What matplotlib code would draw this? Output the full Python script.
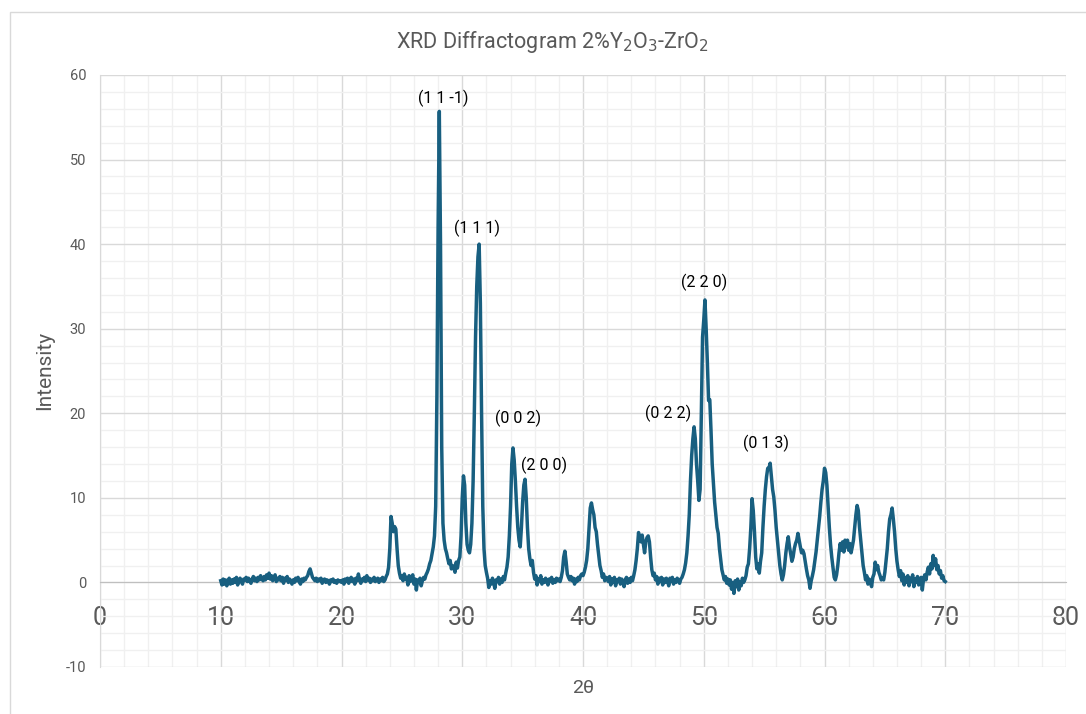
import numpy as np
import matplotlib
matplotlib.use("Agg")
import matplotlib.pyplot as plt
from matplotlib.ticker import MultipleLocator
from matplotlib.patches import Rectangle

# ---- data (2theta from 10.0 to 70.0 in 0.1 deg steps) ----
two_theta_start = 10.0
two_theta_step = 0.1
intensity = [
    0.2, -0.3, 0.4, -0.2, 0.3, -0.4, 0.1, 0.5, -0.2, 0.3,      # 10
    -0.1, 0.4, 0.0, 0.6, -0.3, 0.2, 0.5, 0.1, -0.2, 0.4,       # 11
    0.3, 0.6, 0.1, 0.5, 0.2, -0.1, 0.4, 0.7, 0.2, 0.5,         # 12
    0.1, 0.6, 0.3, 0.8, 0.4, 0.2, 0.7, 0.3, 0.9, 0.5,          # 13
    1.1, 0.4, 0.8, 0.2, 0.6, 0.9, 0.1, 0.5, 0.3, 0.7,          # 14
    0.2, 0.6, -0.1, 0.5, 0.3, 0.7, 0.0, 0.4, 0.2, -0.2,        # 15
    0.3, 0.0, 0.5, 0.2, 0.6, 0.1, -0.2, 0.4, 0.1, 0.5,         # 16
    0.3, 0.6, 0.8, 1.3, 1.6, 1.1, 0.6, 0.4, 0.2, 0.5,          # 17
    0.1, 0.4, 0.2, 0.5, -0.1, 0.3, 0.4, 0.0, 0.3, 0.2,         # 18
    -0.2, 0.3, 0.1, 0.4, 0.0, 0.2, -0.1, 0.3, 0.1, 0.2,        # 19
    0.0, 0.3, -0.2, 0.4, 0.1, 0.5, -0.1, 0.3, 0.6, 0.1,        # 20
    0.4, -0.2, 0.5, 0.2, 1.0, 0.3, -0.1, 0.4, 0.2, 0.6,        # 21
    0.1, 0.8, 0.3, 0.5, 0.0, 0.4, 0.2, 0.6, 0.1, 0.3,          # 22
    0.5, 0.0, 0.4, 0.2, 0.6, 0.1, 0.3, 0.7, 1.0, 1.8,          # 23
    4.0, 7.8, 7.0, 6.0, 6.6, 6.3, 4.0, 2.0, 1.1, 0.5,          # 24
    0.8, 0.2, 1.0, 0.4, 0.6, -0.3, 0.8, 0.1, 0.5, 0.9,         # 25
    -0.2, 0.4, -0.9, 0.3, 0.0, 0.5, -0.4, 0.2, 0.6, 0.4,       # 26
    0.9, 1.2, 1.6, 2.2, 2.6, 3.4, 4.2, 5.5, 9.0, 22.0,         # 27
    42.0, 55.7, 40.0, 16.0, 7.0, 5.0, 4.0, 3.5, 2.8, 2.2,      # 28
    2.6, 1.6, 2.0, 1.8, 1.2, 2.4, 1.7, 2.6, 3.0, 5.5,          # 29
    10.0, 12.6, 11.5, 7.0, 4.5, 3.8, 3.5, 4.5, 7.0, 12.0,      # 30
    20.0, 29.0, 35.0, 38.5, 40.0, 33.0, 20.0, 9.0, 4.0, 2.0,   # 31
    1.2, 0.5, -0.6, 0.2, -0.2, 0.5, 0.0, -0.7, 0.3, 0.1,       # 32
    0.6, -0.2, 0.4, 0.0, 0.7, 0.3, 1.1, 1.8, 3.0, 5.5,         # 33
    9.0, 14.0, 15.9, 14.5, 12.0, 9.0, 6.5, 5.0, 4.2, 6.5,      # 34
    9.5, 11.5, 12.2, 10.0, 6.5, 4.0, 2.8, 2.0, 2.6, 1.2,       # 35
    0.4, 0.8, -0.3, 0.4, 0.1, 0.8, -0.2, 0.3, 0.0, 0.5,        # 36
    0.2, -0.3, 0.4, 0.1, 0.6, -0.1, 0.3, 0.0, 0.5, 0.2,        # 37
    0.4, 0.1, 0.6, 1.4, 3.0, 3.7, 2.5, 1.0, 0.6, 0.3,          # 38
    0.7, 0.2, 0.5, -0.2, 0.4, 0.1, 0.6, 0.3, 0.8, 1.0,         # 39
    0.8, 1.2, 1.8, 2.6, 4.0, 6.5, 8.8, 9.4, 8.6, 8.0,          # 40
    6.5, 6.0, 4.5, 3.2, 2.0, 1.4, 0.6, 1.0, 0.2, 0.6,          # 41
    0.5, 0.1, 0.7, -0.3, 0.4, 0.0, 0.6, -0.4, 0.3, 0.1,        # 42
    0.5, -0.2, 0.4, 0.2, -0.5, 0.3, 0.6, -0.1, 0.4, 0.0,       # 43
    0.6, 0.2, 0.8, 1.5, 2.6, 4.0, 5.9, 5.0, 4.8, 5.6,          # 44
    4.5, 3.5, 4.8, 5.3, 5.5, 4.8, 3.0, 1.5, 0.8, 1.1,          # 45
    0.3, 0.7, -0.2, 0.5, 0.1, 0.6, -0.3, 0.4, 0.0, 0.5,        # 46
    0.2, -0.4, 0.5, 0.1, 0.6, -0.2, 0.3, 0.0, 0.5, 0.2,        # 47
    -0.1, 0.4, 0.6, 1.0, 1.5, 2.3, 3.5, 5.5, 8.0, 12.0,        # 48
    15.0, 17.0, 18.4, 17.0, 14.0, 12.0, 9.7, 11.0, 20.0, 29.0, # 49
    31.0, 33.4, 30.0, 26.0, 21.5, 21.6, 18.0, 14.0, 11.7, 9.5, # 50
    8.0, 6.5, 5.8, 4.0, 2.8, 1.5, 0.9, 0.3, 0.7, -0.1,         # 51
    0.4, -0.3, 0.3, -0.8, 0.0, -1.3, 0.2, -0.5, 0.4, -0.9,     # 52
    0.1, -0.4, 0.5, 0.0, 0.3, 0.8, 1.8, 2.2, 4.0, 6.5,         # 53
    9.9, 8.5, 6.0, 3.0, 1.6, 2.2, 1.1, 2.5, 3.5, 6.5,          # 54
    9.0, 11.0, 12.5, 13.5, 13.5, 14.1, 12.5, 11.0, 10.1, 8.5,  # 55
    6.5, 5.0, 3.5, 2.0, 1.0, 0.3, 0.9, 2.0, 3.5, 4.6,          # 56
    5.4, 4.2, 3.4, 2.5, 3.0, 4.0, 4.6, 5.0, 5.8, 5.0,          # 57
    4.2, 3.5, 3.8, 3.4, 2.5, 1.6, 0.8, 0.3, -0.7, 0.2,         # 58
    0.8, 1.5, 2.6, 3.6, 5.0, 6.3, 7.8, 9.5, 11.0, 12.0,        # 59
    13.5, 13.0, 11.5, 9.0, 6.5, 4.5, 3.0, 1.8, 0.6, 0.3,       # 60
    0.9, 2.0, 3.5, 4.6, 3.8, 4.8, 3.6, 5.0, 4.2, 5.0,          # 61
    3.8, 4.6, 3.5, 4.2, 5.0, 6.5, 8.0, 9.1, 8.5, 6.5,          # 62
    5.0, 3.5, 2.0, 1.2, 0.3, 0.8, -0.2, 0.4, 0.0, -0.5,        # 63
    0.6, 1.0, 2.4, 1.5, 2.0, 1.2, 0.8, 0.3, 0.5, 0.3,          # 64
    1.2, 2.6, 4.0, 6.0, 7.5, 8.0, 8.8, 7.5, 6.0, 4.0,          # 65
    2.5, 1.5, 0.7, 1.4, 0.2, 1.0, -0.3, 0.6, 0.0, 0.8,         # 66
    -0.4, 0.5, 0.1, 0.9, -0.5, 0.4, 0.0, 0.7, -0.3, 0.3,       # 67
    0.6, -0.9, 0.4, 0.9, 0.3, 1.2, 1.8, 1.0, 2.2, 1.6,         # 68
    3.2, 2.0, 2.8, 1.5, 2.0, 1.0, 1.4, 0.5, 0.8, 0.2,          # 69
    0.1,                                                       # 70
]
two_theta = two_theta_start + two_theta_step * np.arange(len(intensity))

peak_labels = ["(1 1 -1)", "(1 1 1)", "(0 0 2)", "(2 0 0)", "(0 2 2)", "(2 2 0)", "(0 1 3)"]
peak_label_x = [28.42, 31.23, 34.63, 36.78, 47.06, 50.04, 55.18]
peak_label_y = [57.2, 41.9, 19.4, 13.8, 20.0, 35.5, 16.4]

x_ticks = [0, 10, 20, 30, 40, 50, 60, 70, 80]
y_ticks = [-10, 0, 10, 20, 30, 40, 50, 60]

# ---- figure ----
plt.rcParams['font.family'] = ['Roboto', 'DejaVu Sans']
plt.rcParams['axes.unicode_minus'] = False
W, H = 1086, 714
fig = plt.figure(figsize=(W / 100, H / 100), dpi=100)
fig.patch.set_facecolor('white')

# outer chart border (cropped at right/bottom)
fig.patches.append(Rectangle((10 / W, -0.05), 1.2, 1 - 12 / H + 0.05,
                             transform=fig.transFigure, fill=False,
                             edgecolor='#d9d9d9', linewidth=1.0))

ax = fig.add_axes([100 / W, 1 - 667 / H, (1066 - 100) / W, (667 - 75) / H])
ax.set_xlim(0, 80)
ax.set_ylim(-10, 60)

ax.plot(two_theta, intensity, color='#185f80', linewidth=2.5, solid_joinstyle='round', zorder=3)

ax.xaxis.set_major_locator(MultipleLocator(10))
ax.xaxis.set_minor_locator(MultipleLocator(2))
ax.yaxis.set_major_locator(MultipleLocator(10))
ax.yaxis.set_minor_locator(MultipleLocator(2))
ax.set_xticks(x_ticks)
ax.set_yticks(y_ticks)
ax.grid(which='major', color='#d9d9d9', linewidth=1.0, zorder=0)
ax.grid(which='minor', color='#f0f0f0', linewidth=1.0, zorder=0)
ax.set_axisbelow(True)

for s in ['top', 'right']:
    ax.spines[s].set_visible(False)
ax.spines['bottom'].set_position(('data', 0))
ax.spines['bottom'].set_color('#bfbfbf')
ax.spines['left'].set_color('#d9d9d9')

ax.tick_params(axis='x', which='both', length=0, labelsize=18, labelcolor='#595959', pad=17)
ax.tick_params(axis='y', which='both', length=0, labelsize=10.5, labelcolor='#595959', pad=10)

for lbl, px, py in zip(peak_labels, peak_label_x, peak_label_y):
    ax.text(px, py, lbl, ha='center', va='center', fontsize=11.5, color='black', zorder=4)

fig.text(552 / W, 1 - 42 / H, r'XRD Diffractogram 2%Y$_2$O$_3$-ZrO$_2$',
         ha='center', va='center', fontsize=15.5, color='#595959')
fig.text(45 / W, 1 - 370 / H, 'Intensity', rotation=90, ha='center', va='center',
         fontsize=15, color='#595959')
fig.text(583 / W, 1 - 688 / H, '2θ', ha='center', va='center', fontsize=14, color='#595959')

fig.savefig('out.png', dpi=100, facecolor='white')
